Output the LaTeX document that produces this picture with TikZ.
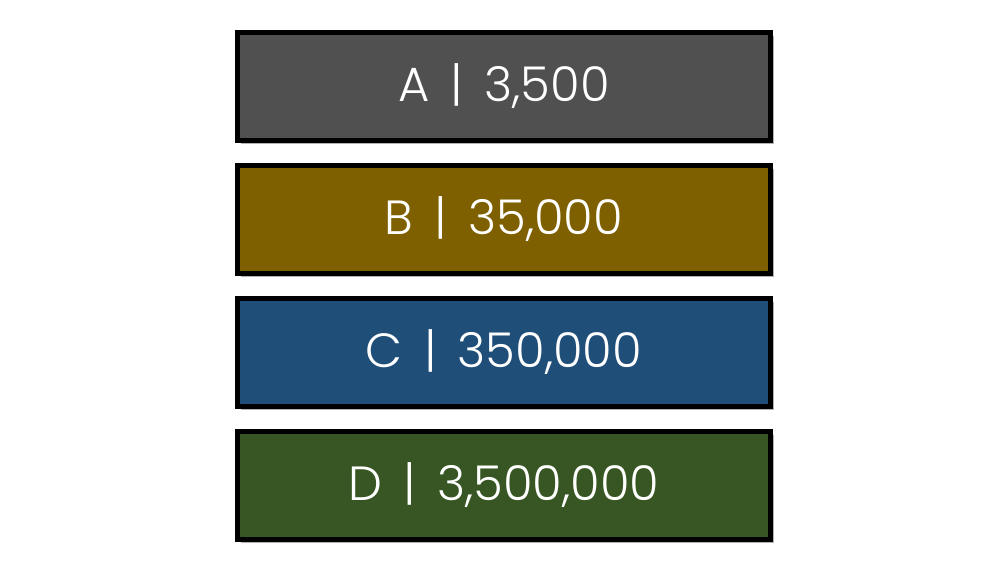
\documentclass[tikz,border=0pt]{standalone}
\usepackage{fontspec}
\setmainfont{Poppins Light}
\usepackage{xcolor}
\usepackage{tikz}
\usetikzlibrary{positioning,shadows}

\definecolor{tierA}{HTML}{505050}
\definecolor{tierB}{HTML}{7F6000}
\definecolor{tierC}{HTML}{1F4E79}
\definecolor{tierD}{HTML}{375623}

\tikzset{
  tierbox/.style={draw=black,line width=5pt,outer sep=0pt,
    minimum width=533pt,minimum height=108pt,text=white,
    font=\fontsize{48}{56}\selectfont,
    drop shadow={shadow xshift=3pt,shadow yshift=-3pt,fill=black!30,opacity=1}}
}

\begin{document}
\begin{tikzpicture}[node distance=25pt]
  \useasboundingbox[fill=white] (0,0) rectangle (1000pt,-573pt);
  \node[tierbox,fill=tierA] (a) at (504pt,-86.5pt) {A \,|\, 3,500};
  \node[tierbox,fill=tierB,below=of a] (b) {B \,|\, 35,000};
  \node[tierbox,fill=tierC,below=of b] (c) {C \,|\, 350,000};
  \node[tierbox,fill=tierD,below=of c] (d) {D \,|\, 3,500,000};
\end{tikzpicture}
\end{document}
